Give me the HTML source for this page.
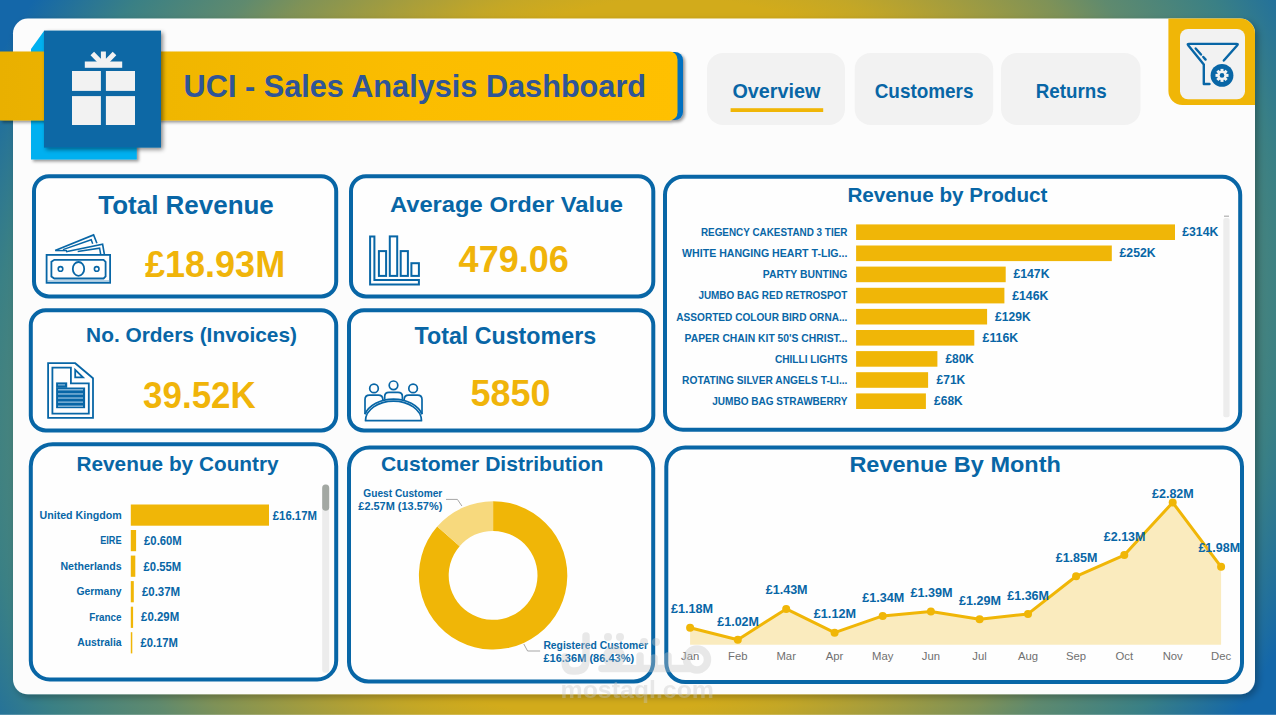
<!DOCTYPE html>
<html><head><meta charset="utf-8"><title>UCI - Sales Analysis Dashboard</title>
<style>
html,body{margin:0;padding:0;background:#fff;overflow:hidden}
svg{display:block;font-family:'Liberation Sans', sans-serif}
text{font-family:"Liberation Sans",sans-serif}
</style></head><body>
<svg width="1276" height="717" viewBox="0 0 1276 717">
<defs>
<radialGradient id="bg" gradientUnits="userSpaceOnUse" cx="635" cy="358" r="735" gradientTransform="matrix(1 0 -0.1116 1 39.95 0)">
<stop offset="0.49" stop-color="#D2AB1B"/>
<stop offset="0.535" stop-color="#C4A726"/>
<stop offset="0.585" stop-color="#AFA036"/>
<stop offset="0.70" stop-color="#7F9257"/>
<stop offset="0.76" stop-color="#5F8A6E"/>
<stop offset="0.88" stop-color="#3A8085"/>
<stop offset="1" stop-color="#1467A9"/>
</radialGradient>
<linearGradient id="band" x1="0" y1="0" x2="1" y2="0">
<stop offset="0" stop-color="#E9B000"/>
<stop offset="0.25" stop-color="#F0B603"/>
<stop offset="0.6" stop-color="#FBBD00"/>
<stop offset="1" stop-color="#FFC000"/>
</linearGradient>
<filter id="shPanel" x="-5%" y="-5%" width="110%" height="110%">
<feDropShadow dx="3" dy="3" stdDeviation="3.5" flood-color="#000" flood-opacity="0.28"/>
</filter>
<filter id="shSq" x="-20%" y="-20%" width="140%" height="140%">
<feDropShadow dx="2" dy="2" stdDeviation="2" flood-color="#000" flood-opacity="0.45"/>
</filter>
<filter id="shBand" x="-5%" y="-20%" width="110%" height="150%">
<feDropShadow dx="2" dy="2" stdDeviation="1.5" flood-color="#000" flood-opacity="0.4"/>
</filter>
<clipPath id="panelClip"><rect x="13" y="18.5" width="1242" height="675.5" rx="15"/></clipPath>
</defs>
<rect x="0" y="0" width="1276" height="717" fill="url(#bg)"/>
<rect x="0" y="714.8" width="1276" height="3" fill="#FFFFFF"/>
<rect x="13" y="18.5" width="1242" height="675.8" rx="15" fill="#FCFCFC" filter="url(#shPanel)"/>
<g clip-path="url(#panelClip)"><path d="M1168.4 18 H1256 V105 H1182.4 A14 14 0 0 1 1168.4 91 Z" fill="#F0B607"/></g>
<rect x="1180" y="29" width="65" height="70.3" rx="8" fill="#F2F2F2"/>
<g fill="none" stroke="#0866A6" stroke-width="2.4" stroke-linecap="round" stroke-linejoin="round"><path d="M1223.8 60.5 L1237.3 45.2 Q1238.5 43.9 1236.5 43.9 H1189 Q1187 43.9 1188.2 45.2 L1203.8 64.5 V84 H1209.5"/><path d="M1195.7 48.5 L1201 54.5 M1203.3 57 L1205.6 59.6"/></g>
<circle cx="1222.0" cy="75.4" r="11.4" fill="#0866A6"/>
<rect x="1220.5" y="68.9" width="3" height="13" transform="rotate(0 1222.0 75.4)" fill="#F2F2F2"/><rect x="1220.5" y="68.9" width="3" height="13" transform="rotate(45 1222.0 75.4)" fill="#F2F2F2"/><rect x="1220.5" y="68.9" width="3" height="13" transform="rotate(90 1222.0 75.4)" fill="#F2F2F2"/><rect x="1220.5" y="68.9" width="3" height="13" transform="rotate(135 1222.0 75.4)" fill="#F2F2F2"/>
<circle cx="1222.0" cy="75.4" r="4.7" fill="#F2F2F2"/><circle cx="1222.0" cy="75.4" r="2.3" fill="#0866A6"/>
<polygon points="44,31 31,49 31,159.4 136.8,159.4 136.8,140 44,140" fill="#00B0F0" filter="url(#shBand)"/>
<g filter="url(#shBand)"><path d="M672 52 H675 A8 8 0 0 1 683 60 V112 A8 8 0 0 1 675 120 H672 Z" fill="#0070C0"/><path d="M0 51.5 H669.5 A8 8 0 0 1 677.5 59.5 V112.4 A8 8 0 0 1 669.5 120.4 H0 Z" fill="url(#band)"/></g>
<rect x="44" y="30.6" width="117" height="117" fill="#0A67A5" filter="url(#shSq)"/>
<g fill="#F2F2F2"><rect x="72" y="71" width="28.9" height="19.9"/><rect x="105.9" y="71" width="29.1" height="19.9"/><rect x="72" y="96.1" width="28.9" height="28.9"/><rect x="105.9" y="96.1" width="29.1" height="28.9"/><rect x="84.8" y="61.5" width="37.4" height="6.3"/></g>
<g stroke="#F2F2F2" stroke-width="5" fill="none"><path d="M103.4 63 V51.5 M101.5 63 L92.3 53.5 M105.3 63 L114.5 53.5"/></g>
<text x="183.6" y="97.1" font-size="31.3" font-weight="bold" fill="#2F5597" text-anchor="start" textLength="462.5" lengthAdjust="spacingAndGlyphs">UCI - Sales Analysis Dashboard</text>
<rect x="707" y="53" width="138.0" height="72" rx="16" fill="#F2F2F2"/>
<rect x="854.7" y="53" width="138.5" height="72" rx="16" fill="#F2F2F2"/>
<rect x="1001" y="53" width="139.5" height="72" rx="16" fill="#F2F2F2"/>
<text x="732.4" y="97.6" font-size="20.5" font-weight="bold" fill="#0866A6" text-anchor="start" textLength="88.0" lengthAdjust="spacingAndGlyphs">Overview</text>
<rect x="730.6" y="108.2" width="92.6" height="3.8" fill="#F0B607"/>
<text x="874.7" y="97.6" font-size="20.5" font-weight="bold" fill="#0866A6" text-anchor="start" textLength="98.8" lengthAdjust="spacingAndGlyphs">Customers</text>
<text x="1035.7" y="97.6" font-size="20.5" font-weight="bold" fill="#0866A6" text-anchor="start" textLength="71.0" lengthAdjust="spacingAndGlyphs">Returns</text>
<rect x="34.0" y="176.3" width="302.2" height="120.1" rx="15.0" fill="#FEFEFE" stroke="#0866A6" stroke-width="4"/>
<rect x="351.0" y="176.3" width="302.3" height="120.1" rx="15.0" fill="#FEFEFE" stroke="#0866A6" stroke-width="4"/>
<rect x="30.8" y="310.2" width="305.4" height="120.2" rx="15.0" fill="#FEFEFE" stroke="#0866A6" stroke-width="4"/>
<rect x="349.0" y="310.2" width="304.3" height="120.2" rx="15.0" fill="#FEFEFE" stroke="#0866A6" stroke-width="4"/>
<text x="98.3" y="213.9" font-size="26.6" font-weight="bold" fill="#0866A6" text-anchor="start" textLength="175.5" lengthAdjust="spacingAndGlyphs">Total Revenue</text>
<text x="144.9" y="276.5" font-size="36.6" font-weight="bold" fill="#F0B40A" text-anchor="start" textLength="140.3" lengthAdjust="spacingAndGlyphs">£18.93M</text>
<text x="389.9" y="212.4" font-size="22.2" font-weight="bold" fill="#0866A6" text-anchor="start" textLength="233.0" lengthAdjust="spacingAndGlyphs">Average Order Value</text>
<text x="458.6" y="271.8" font-size="36.5" font-weight="bold" fill="#F0B40A" text-anchor="start" textLength="110.2" lengthAdjust="spacingAndGlyphs">479.06</text>
<text x="86.1" y="342.1" font-size="20.6" font-weight="bold" fill="#0866A6" text-anchor="start" textLength="210.9" lengthAdjust="spacingAndGlyphs">No. Orders (Invoices)</text>
<text x="143.1" y="408.4" font-size="36.6" font-weight="bold" fill="#F0B40A" text-anchor="start" textLength="112.7" lengthAdjust="spacingAndGlyphs">39.52K</text>
<text x="414.5" y="343.9" font-size="23.7" font-weight="bold" fill="#0866A6" text-anchor="start" textLength="181.6" lengthAdjust="spacingAndGlyphs">Total Customers</text>
<text x="470.6" y="405.9" font-size="36.6" font-weight="bold" fill="#F0B40A" text-anchor="start" textLength="80.0" lengthAdjust="spacingAndGlyphs">5850</text>
<g fill="none" stroke="#0866A6" stroke-width="1.8" stroke-linejoin="miter"><rect x="46.6" y="254.9" width="63.5" height="27.9"/><path d="M54.3 259.8 H103.6 L105.6 261.8 V276.5 L103.6 278.5 H54.3 L51.4 276.5 V261.8 Z"/><ellipse cx="78.5" cy="268.9" rx="5.7" ry="6.9"/><circle cx="60.5" cy="268.9" r="2.3" stroke-width="1.6"/><circle cx="96.7" cy="268.9" r="2.3" stroke-width="1.6"/><path d="M55.1 250.6 L93.6 234.9 L96.9 243.2" stroke-width="1.6"/><path d="M63 249.6 L91.2 239.8 L92.7 243.8" stroke-width="1.5"/><path d="M55.5 250.6 H67" stroke-width="1.4"/><path d="M66 251.8 L102.6 244.3 L104.4 254.5" stroke-width="1.6"/><path d="M77.7 251.6 L99.6 248.2 L100.7 254.5" stroke-width="1.5"/></g>
<path d="M47 281 H110" stroke="#5E9DC8" stroke-width="0.9" fill="none"/>
<g fill="none" stroke="#0866A6" stroke-width="2" stroke-linejoin="miter"><path d="M370.1 236.4 H374.4 V280 H418.9 V284.6 H370.1 Z"/><rect x="378.9" y="251.1" width="7.2" height="24.8"/><rect x="389.8" y="236.4" width="7.4" height="39.5"/><rect x="400.7" y="251.1" width="7.2" height="24.8"/><rect x="411.4" y="263.2" width="7.5" height="12.7"/></g>
<g fill="none" stroke="#0866A6" stroke-width="1.8" stroke-linejoin="miter"><path d="M48.1 363.2 H75.2 L93 378.2 V417.9 H48.1 Z"/><path d="M52.4 367.6 H70.9 V383.3 H88.8 V413.7 H52.4 Z"/><path d="M75.2 369.8 V377.4 H83 Z"/></g>
<g fill="#0866A6"><rect x="56.1" y="382.4" width="11.1" height="5.4"/><rect x="56.1" y="387.5" width="29" height="20.7"/></g>
<g fill="#7FB2D6"><rect x="58" y="384.2" width="7" height="1.3"/><rect x="58" y="389.0" width="25" height="1.5"/><rect x="58" y="393.2" width="25" height="1.5"/><rect x="58" y="397.3" width="25" height="1.5"/><rect x="58" y="401.4" width="25" height="1.5"/><rect x="58" y="405.5" width="25" height="1.5"/></g>
<g fill="none" stroke="#0866A6" stroke-width="1.7" stroke-linejoin="round"><path d="M365.5 420.7 A28 19.6 0 0 1 421.5 420.7 Z"/><path d="M364.9 414.3 A30 21.8 0 0 1 422.1 414.3"/><circle cx="374" cy="388.4" r="4.3"/><circle cx="393.5" cy="385.3" r="4.3"/><circle cx="413.1" cy="388.4" r="4.3"/><path d="M365 414 V399.6 Q365 395.2 369.5 395.2 H378.4 Q382.8 395.2 382.8 399.6 V400.6"/><path d="M384.7 399.4 V396.6 Q384.7 392.4 389 392.4 H398 Q402.4 392.4 402.4 396.6 V399.4"/><path d="M404.2 400.6 V399.6 Q404.2 395.2 408.6 395.2 H417.6 Q422 395.2 422 399.6 V414"/></g>
<rect x="665.0" y="176.8" width="575.2" height="252.9" rx="18.0" fill="#FEFEFE" stroke="#0866A6" stroke-width="4"/>
<text x="847.4" y="201.6" font-size="20.1" font-weight="bold" fill="#0866A6" text-anchor="start" textLength="200.1" lengthAdjust="spacingAndGlyphs">Revenue by Product</text>
<rect x="856.1" y="224.4" width="318.9" height="15.6" fill="#F0B607"/>
<text x="700.9" y="236.0" font-size="10.9" font-weight="bold" fill="#0866A6" text-anchor="start" textLength="146.5" lengthAdjust="spacingAndGlyphs">REGENCY CAKESTAND 3 TIER</text>
<text x="1182.2" y="236.1" font-size="12.4" font-weight="bold" fill="#0866A6" text-anchor="start" textLength="36.1" lengthAdjust="spacingAndGlyphs">£314K</text>
<rect x="856.1" y="245.5" width="255.7" height="15.6" fill="#F0B607"/>
<text x="682.1" y="257.1" font-size="10.9" font-weight="bold" fill="#0866A6" text-anchor="start" textLength="165.3" lengthAdjust="spacingAndGlyphs">WHITE HANGING HEART T-LIG...</text>
<text x="1119.5" y="257.2" font-size="12.4" font-weight="bold" fill="#0866A6" text-anchor="start" textLength="36.1" lengthAdjust="spacingAndGlyphs">£252K</text>
<rect x="856.1" y="266.6" width="149.6" height="15.6" fill="#F0B607"/>
<text x="762.8" y="278.2" font-size="10.9" font-weight="bold" fill="#0866A6" text-anchor="start" textLength="84.6" lengthAdjust="spacingAndGlyphs">PARTY BUNTING</text>
<text x="1013.4" y="278.3" font-size="12.4" font-weight="bold" fill="#0866A6" text-anchor="start" textLength="36.1" lengthAdjust="spacingAndGlyphs">£147K</text>
<rect x="856.1" y="287.8" width="148.3" height="15.6" fill="#F0B607"/>
<text x="698.4" y="299.4" font-size="10.9" font-weight="bold" fill="#0866A6" text-anchor="start" textLength="149.0" lengthAdjust="spacingAndGlyphs">JUMBO BAG RED RETROSPOT</text>
<text x="1012.2" y="299.5" font-size="12.4" font-weight="bold" fill="#0866A6" text-anchor="start" textLength="36.1" lengthAdjust="spacingAndGlyphs">£146K</text>
<rect x="856.1" y="308.9" width="131.0" height="15.6" fill="#F0B607"/>
<text x="676.3" y="320.5" font-size="10.9" font-weight="bold" fill="#0866A6" text-anchor="start" textLength="171.1" lengthAdjust="spacingAndGlyphs">ASSORTED COLOUR BIRD ORNA...</text>
<text x="995.1" y="320.6" font-size="12.4" font-weight="bold" fill="#0866A6" text-anchor="start" textLength="35.6" lengthAdjust="spacingAndGlyphs">£129K</text>
<rect x="856.1" y="330.0" width="118.2" height="15.6" fill="#F0B607"/>
<text x="684.6" y="341.6" font-size="10.9" font-weight="bold" fill="#0866A6" text-anchor="start" textLength="162.8" lengthAdjust="spacingAndGlyphs">PAPER CHAIN KIT 50'S CHRIST...</text>
<text x="982.6" y="341.7" font-size="12.4" font-weight="bold" fill="#0866A6" text-anchor="start" textLength="35.6" lengthAdjust="spacingAndGlyphs">£116K</text>
<rect x="856.1" y="351.1" width="81.3" height="15.6" fill="#F0B607"/>
<text x="774.9" y="362.7" font-size="10.9" font-weight="bold" fill="#0866A6" text-anchor="start" textLength="72.5" lengthAdjust="spacingAndGlyphs">CHILLI LIGHTS</text>
<text x="945.4" y="362.8" font-size="12.4" font-weight="bold" fill="#0866A6" text-anchor="start" textLength="28.6" lengthAdjust="spacingAndGlyphs">£80K</text>
<rect x="856.1" y="372.2" width="72.0" height="15.6" fill="#F0B607"/>
<text x="682.1" y="383.8" font-size="10.9" font-weight="bold" fill="#0866A6" text-anchor="start" textLength="165.3" lengthAdjust="spacingAndGlyphs">ROTATING SILVER ANGELS T-LI...</text>
<text x="936.6" y="383.9" font-size="12.4" font-weight="bold" fill="#0866A6" text-anchor="start" textLength="28.6" lengthAdjust="spacingAndGlyphs">£71K</text>
<rect x="856.1" y="393.4" width="69.8" height="15.6" fill="#F0B607"/>
<text x="712.2" y="405.0" font-size="10.9" font-weight="bold" fill="#0866A6" text-anchor="start" textLength="135.2" lengthAdjust="spacingAndGlyphs">JUMBO BAG STRAWBERRY</text>
<text x="934.1" y="405.1" font-size="12.4" font-weight="bold" fill="#0866A6" text-anchor="start" textLength="28.6" lengthAdjust="spacingAndGlyphs">£68K</text>
<rect x="1223.3" y="218" width="6.3" height="199.3" rx="2" fill="#EDEDED"/>
<rect x="1224" y="215.6" width="5" height="1.2" fill="#B0B0B0"/>
<path d="M52.8 444.3 H314.2 A22.0 22.0 0 0 1 336.2 466.3 V660.4 A19.0 19.0 0 0 1 317.2 679.4 H49.8 A19.0 19.0 0 0 1 30.8 660.4 V466.3 A22.0 22.0 0 0 1 52.8 444.3 Z" fill="#FEFEFE" stroke="#0866A6" stroke-width="4"/>
<text x="76.5" y="470.6" font-size="20.1" font-weight="bold" fill="#0866A6" text-anchor="start" textLength="202.1" lengthAdjust="spacingAndGlyphs">Revenue by Country</text>
<rect x="130.8" y="504.5" width="138.2" height="21.2" fill="#F0B607"/>
<text x="39.5" y="519.0" font-size="10.9" font-weight="bold" fill="#0866A6" text-anchor="start" textLength="82.1" lengthAdjust="spacingAndGlyphs">United Kingdom</text>
<text x="272.8" y="519.5" font-size="12.3" font-weight="bold" fill="#0866A6" text-anchor="start" textLength="44.1" lengthAdjust="spacingAndGlyphs">£16.17M</text>
<rect x="130.8" y="530.0" width="5.3" height="21.2" fill="#F0B607"/>
<text x="100.2" y="543.8" font-size="10.9" font-weight="bold" fill="#0866A6" text-anchor="start" textLength="21.4" lengthAdjust="spacingAndGlyphs">EIRE</text>
<text x="144.1" y="545.1" font-size="12.3" font-weight="bold" fill="#0866A6" text-anchor="start" textLength="37.6" lengthAdjust="spacingAndGlyphs">£0.60M</text>
<rect x="130.8" y="555.6" width="4.5" height="21.2" fill="#F0B607"/>
<text x="60.4" y="569.7" font-size="10.9" font-weight="bold" fill="#0866A6" text-anchor="start" textLength="61.2" lengthAdjust="spacingAndGlyphs">Netherlands</text>
<text x="143.6" y="570.5" font-size="12.3" font-weight="bold" fill="#0866A6" text-anchor="start" textLength="37.6" lengthAdjust="spacingAndGlyphs">£0.55M</text>
<rect x="130.8" y="581.1" width="3.0" height="21.2" fill="#F0B607"/>
<text x="76.4" y="594.6" font-size="10.9" font-weight="bold" fill="#0866A6" text-anchor="start" textLength="45.2" lengthAdjust="spacingAndGlyphs">Germany</text>
<text x="141.9" y="595.8" font-size="12.3" font-weight="bold" fill="#0866A6" text-anchor="start" textLength="38.3" lengthAdjust="spacingAndGlyphs">£0.37M</text>
<rect x="130.8" y="606.7" width="2.3" height="21.2" fill="#F0B607"/>
<text x="89.2" y="620.7" font-size="10.9" font-weight="bold" fill="#0866A6" text-anchor="start" textLength="32.4" lengthAdjust="spacingAndGlyphs">France</text>
<text x="141.1" y="621.3" font-size="12.3" font-weight="bold" fill="#0866A6" text-anchor="start" textLength="38.1" lengthAdjust="spacingAndGlyphs">£0.29M</text>
<rect x="130.8" y="632.2" width="1.5" height="21.2" fill="#F0B607"/>
<text x="77.2" y="645.8" font-size="10.9" font-weight="bold" fill="#0866A6" text-anchor="start" textLength="44.4" lengthAdjust="spacingAndGlyphs">Australia</text>
<text x="140.4" y="647.0" font-size="12.3" font-weight="bold" fill="#0866A6" text-anchor="start" textLength="37.6" lengthAdjust="spacingAndGlyphs">£0.17M</text>
<rect x="322.2" y="484.4" width="7" height="188.4" rx="3" fill="#ECECEC"/>
<rect x="322.2" y="484.4" width="7" height="26.3" rx="3.5" fill="#A3A8A3"/>
<path d="M369.5 447.5 H632.7 A20.5 20.5 0 0 1 653.2 468.0 V662.0 A19.5 19.5 0 0 1 633.7 681.5 H368.5 A19.5 19.5 0 0 1 349.0 662.0 V468.0 A20.5 20.5 0 0 1 369.5 447.5 Z" fill="#FEFEFE" stroke="#0866A6" stroke-width="4"/>
<text x="380.9" y="470.6" font-size="20.1" font-weight="bold" fill="#0866A6" text-anchor="start" textLength="222.5" lengthAdjust="spacingAndGlyphs">Customer Distribution</text>
<path d="M493.10 501.20 A74.2 74.2 0 1 1 437.23 526.58 L459.67 546.18 A44.4 44.4 0 1 0 493.10 531.00 Z" fill="#F0B607"/>
<path d="M437.23 526.58 A74.2 74.2 0 0 1 493.10 501.20 L493.10 531.00 A44.4 44.4 0 0 0 459.67 546.18 Z" fill="#F7D97D"/>
<text x="363.3" y="496.9" font-size="11" font-weight="bold" fill="#0866A6" text-anchor="start" textLength="79.0" lengthAdjust="spacingAndGlyphs">Guest Customer</text>
<text x="358.3" y="509.5" font-size="11" font-weight="bold" fill="#0866A6" text-anchor="start" textLength="84.0" lengthAdjust="spacingAndGlyphs">£2.57M (13.57%)</text>
<text x="543.4" y="649.0" font-size="11" font-weight="bold" fill="#0866A6" text-anchor="start" textLength="104.6" lengthAdjust="spacingAndGlyphs">Registered Customer</text>
<text x="543.4" y="662.1" font-size="11" font-weight="bold" fill="#0866A6" text-anchor="start" textLength="90.8" lengthAdjust="spacingAndGlyphs">£16.36M (86.43%)</text>
<path d="M446 499.4 H457.4 L461.9 506" fill="none" stroke="#A6A6A6" stroke-width="1"/>
<path d="M523.8 644 L527.6 651 H540.1" fill="none" stroke="#A6A6A6" stroke-width="1"/>
<rect x="666.3" y="447.5" width="575.7" height="234.6" rx="19.0" fill="#FEFEFE" stroke="#0866A6" stroke-width="4"/>
<text x="849.4" y="471.9" font-size="21.2" font-weight="bold" fill="#0866A6" text-anchor="start" textLength="211.5" lengthAdjust="spacingAndGlyphs">Revenue By Month</text>
<polygon points="690.1,644.7 690.1,627.7 737.8,639.7 786.2,608.9 834.6,632.7 882.7,615.9 930.9,611.4 979.6,619.2 1028.0,613.9 1076.1,576.3 1124.3,555.1 1172.7,502.5 1221.1,566.8 1221.1,644.7" fill="#FAEBBE"/>
<polyline points="690.1,627.7 737.8,639.7 786.2,608.9 834.6,632.7 882.7,615.9 930.9,611.4 979.6,619.2 1028.0,613.9 1076.1,576.3 1124.3,555.1 1172.7,502.5 1221.1,566.8" fill="none" stroke="#F0B607" stroke-width="3" stroke-linejoin="round"/>
<circle cx="690.1" cy="627.7" r="4" fill="#F0B607"/>
<circle cx="737.8" cy="639.7" r="4" fill="#F0B607"/>
<circle cx="786.2" cy="608.9" r="4" fill="#F0B607"/>
<circle cx="834.6" cy="632.7" r="4" fill="#F0B607"/>
<circle cx="882.7" cy="615.9" r="4" fill="#F0B607"/>
<circle cx="930.9" cy="611.4" r="4" fill="#F0B607"/>
<circle cx="979.6" cy="619.2" r="4" fill="#F0B607"/>
<circle cx="1028" cy="613.9" r="4" fill="#F0B607"/>
<circle cx="1076.1" cy="576.3" r="4" fill="#F0B607"/>
<circle cx="1124.3" cy="555.1" r="4" fill="#F0B607"/>
<circle cx="1172.7" cy="502.5" r="4" fill="#F0B607"/>
<circle cx="1221.1" cy="566.8" r="4" fill="#F0B607"/>
<text x="690.1" y="659.8" font-size="11.3" font-weight="normal" fill="#707070" text-anchor="middle">Jan</text>
<text x="737.8" y="659.8" font-size="11.3" font-weight="normal" fill="#707070" text-anchor="middle">Feb</text>
<text x="786.2" y="659.8" font-size="11.3" font-weight="normal" fill="#707070" text-anchor="middle">Mar</text>
<text x="834.6" y="659.8" font-size="11.3" font-weight="normal" fill="#707070" text-anchor="middle">Apr</text>
<text x="882.7" y="659.8" font-size="11.3" font-weight="normal" fill="#707070" text-anchor="middle">May</text>
<text x="930.9" y="659.8" font-size="11.3" font-weight="normal" fill="#707070" text-anchor="middle">Jun</text>
<text x="979.6" y="659.8" font-size="11.3" font-weight="normal" fill="#707070" text-anchor="middle">Jul</text>
<text x="1028.0" y="659.8" font-size="11.3" font-weight="normal" fill="#707070" text-anchor="middle">Aug</text>
<text x="1076.1" y="659.8" font-size="11.3" font-weight="normal" fill="#707070" text-anchor="middle">Sep</text>
<text x="1124.3" y="659.8" font-size="11.3" font-weight="normal" fill="#707070" text-anchor="middle">Oct</text>
<text x="1172.7" y="659.8" font-size="11.3" font-weight="normal" fill="#707070" text-anchor="middle">Nov</text>
<text x="1221.1" y="659.8" font-size="11.3" font-weight="normal" fill="#707070" text-anchor="middle">Dec</text>
<text x="670.9" y="612.9" font-size="12.7" font-weight="bold" fill="#0866A6" text-anchor="start" textLength="42.2" lengthAdjust="spacingAndGlyphs">£1.18M</text>
<text x="717.3" y="626.2" font-size="12.7" font-weight="bold" fill="#0866A6" text-anchor="start" textLength="41.7" lengthAdjust="spacingAndGlyphs">£1.02M</text>
<text x="765.7" y="594.1" font-size="12.7" font-weight="bold" fill="#0866A6" text-anchor="start" textLength="41.9" lengthAdjust="spacingAndGlyphs">£1.43M</text>
<text x="813.8" y="618.0" font-size="12.7" font-weight="bold" fill="#0866A6" text-anchor="start" textLength="42.2" lengthAdjust="spacingAndGlyphs">£1.12M</text>
<text x="862.2" y="602.2" font-size="12.7" font-weight="bold" fill="#0866A6" text-anchor="start" textLength="42.0" lengthAdjust="spacingAndGlyphs">£1.34M</text>
<text x="910.4" y="597.1" font-size="12.7" font-weight="bold" fill="#0866A6" text-anchor="start" textLength="42.2" lengthAdjust="spacingAndGlyphs">£1.39M</text>
<text x="959.1" y="605.4" font-size="12.7" font-weight="bold" fill="#0866A6" text-anchor="start" textLength="42.0" lengthAdjust="spacingAndGlyphs">£1.29M</text>
<text x="1007.3" y="599.9" font-size="12.7" font-weight="bold" fill="#0866A6" text-anchor="start" textLength="41.7" lengthAdjust="spacingAndGlyphs">£1.36M</text>
<text x="1055.7" y="561.9" font-size="12.7" font-weight="bold" fill="#0866A6" text-anchor="start" textLength="41.7" lengthAdjust="spacingAndGlyphs">£1.85M</text>
<text x="1103.8" y="541.1" font-size="12.7" font-weight="bold" fill="#0866A6" text-anchor="start" textLength="41.7" lengthAdjust="spacingAndGlyphs">£2.13M</text>
<text x="1152.0" y="498.0" font-size="12.7" font-weight="bold" fill="#0866A6" text-anchor="start" textLength="41.7" lengthAdjust="spacingAndGlyphs">£2.82M</text>
<text x="1198.4" y="552.4" font-size="12.7" font-weight="bold" fill="#0866A6" text-anchor="start" textLength="41.7" lengthAdjust="spacingAndGlyphs">£1.98M</text>
<g opacity="0.38"><text x="560.5" y="697.9" font-size="23.8" font-weight="bold" fill="#C6C6C6" textLength="153.5" lengthAdjust="spacingAndGlyphs">mostaql.com</text><g fill="none" stroke="#C6C6C6" stroke-width="7.5" stroke-linecap="round" stroke-linejoin="round"><path d="M586 636 V660 Q586 671 575 671 H573 Q565 671 565 661 V657"/><path d="M602 668.5 H690"/><circle cx="614" cy="657" r="7.5"/><path d="M640 668 V656 M654 668 V658 M668 668 V656"/><circle cx="697" cy="659.5" r="10.5"/></g><g fill="#C6C6C6"><circle cx="608" cy="637" r="4"/><circle cx="620" cy="637" r="4"/><circle cx="644" cy="642" r="4"/><circle cx="656" cy="642" r="4"/></g></g>
</svg>
</body></html>
